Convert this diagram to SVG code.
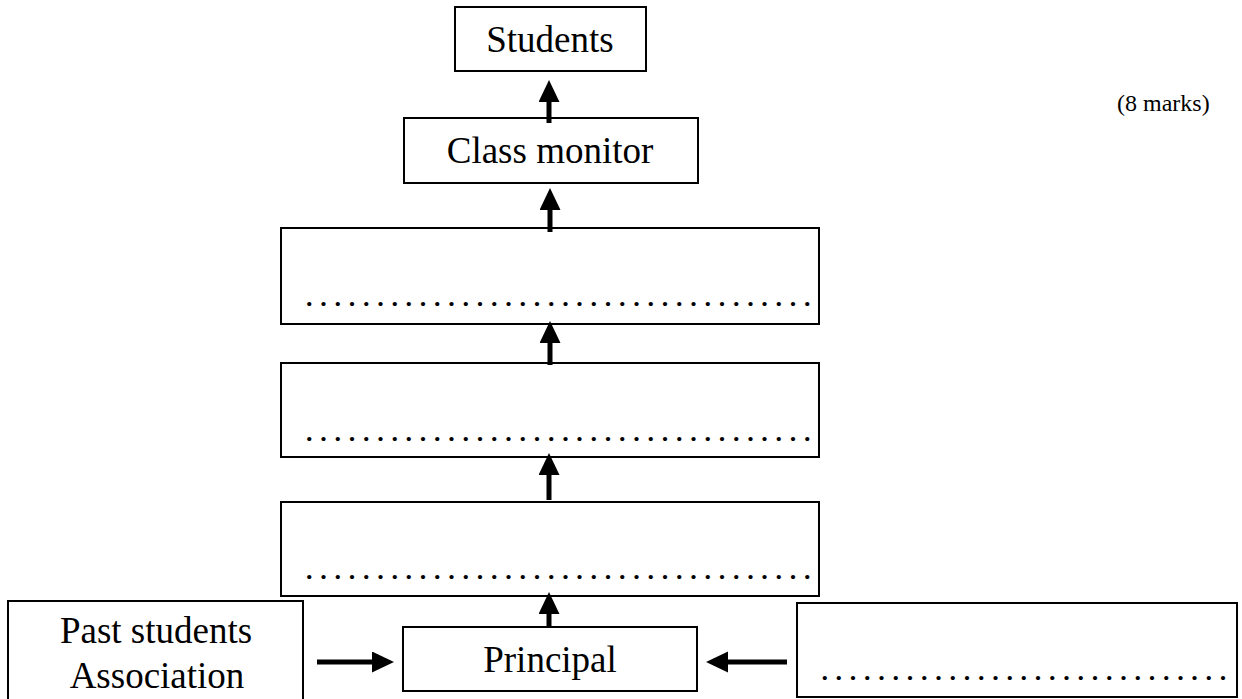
<svg xmlns="http://www.w3.org/2000/svg" width="1242" height="699" viewBox="0 0 1242 699">
<style>
.box{fill:#fff;stroke:#000;stroke-width:2}
.lbl{font-family:"Liberation Serif","Times New Roman","DejaVu Serif",serif;font-size:37px;fill:#000;text-anchor:middle}
.dots{font-family:"Liberation Serif","Times New Roman","DejaVu Serif",serif;font-size:26px;font-weight:bold;fill:#000;letter-spacing:7.73px}
.conn{stroke:#000;stroke-width:5;fill:none;marker-end:url(#ah)}
.note{font-family:"Liberation Serif","Times New Roman","DejaVu Serif",serif;font-size:24px;fill:#000}
</style>
<defs>
<marker id="ah" markerUnits="userSpaceOnUse" markerWidth="24" markerHeight="22" refX="2" refY="10.5" orient="auto">
<path d="M0,0 L22,10.5 L0,21 z" fill="#000"/>
</marker>
</defs>
<rect width="1242" height="699" fill="#fff"/>
<g id="students"><rect class="box" x="455" y="7" width="191" height="64"/><text class="lbl" x="550" y="52">Students</text></g>
<g id="class-monitor"><rect class="box" x="404" y="118" width="294" height="65"/><text class="lbl" x="550" y="163">Class monitor</text></g>
<g id="blank1"><rect class="box" x="281" y="228" width="538" height="96"/><text class="dots" x="306" y="306">....................................</text></g>
<g id="blank2"><rect class="box" x="281" y="363" width="538" height="94"/><text class="dots" x="306" y="441">....................................</text></g>
<g id="blank3"><rect class="box" x="281" y="502" width="538" height="94"/><text class="dots" x="306" y="579">....................................</text></g>
<g id="principal"><rect class="box" x="403" y="627" width="294" height="64"/><text class="lbl" x="550" y="672">Principal</text></g>
<g id="past-students"><rect class="box" x="8" y="601" width="295" height="101"/><text class="lbl" x="156" y="643">Past students</text><text class="lbl" x="157" y="688">Association</text></g>
<g id="blank4"><rect class="box" x="797" y="603" width="440" height="94"/><text class="dots" x="821.4" y="680">.............................</text></g>
<g id="note"><text class="note" x="1117" y="111">(8 marks)</text></g>
<g id="connectors">
<line class="conn" x1="549" y1="123" x2="549" y2="100"/>
<line class="conn" x1="550" y1="232" x2="550" y2="208"/>
<line class="conn" x1="550" y1="365" x2="550" y2="341"/>
<line class="conn" x1="549" y1="500" x2="549" y2="473"/>
<line class="conn" x1="549" y1="627" x2="549" y2="612"/>
<line class="conn" x1="317" y1="662" x2="374" y2="662"/>
<line class="conn" x1="787" y1="662" x2="726" y2="662"/>
</g>
</svg>
